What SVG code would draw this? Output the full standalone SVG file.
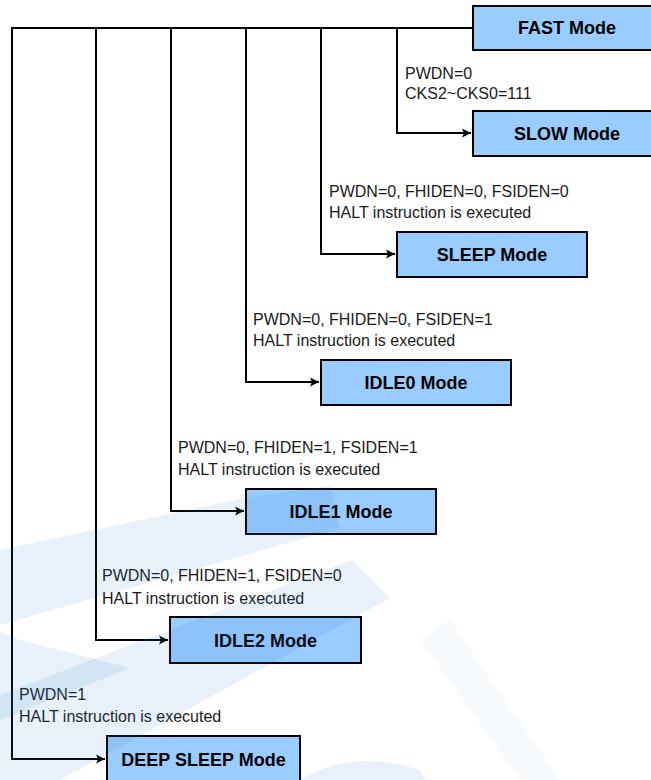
<svg xmlns="http://www.w3.org/2000/svg" width="651" height="780" viewBox="0 0 651 780">
<defs>
<marker id="arr" markerWidth="10" markerHeight="10" refX="9" refY="5" orient="auto" markerUnits="userSpaceOnUse">
<path d="M0,0.5 L9,5 L0,9.5 L2,5 Z" fill="#000"/>
</marker>
<style>
.box{fill:#99ccff;stroke:#000;stroke-width:2}
.bt{font-family:"Liberation Sans",Arial,sans-serif;font-weight:bold;font-size:18px;fill:#000;text-anchor:middle}
.lb{font-family:"Liberation Sans",Arial,sans-serif;font-size:16px;fill:#1a1a1a}
.ln{fill:none;stroke:#000;stroke-width:2}
.wm{fill:#2a7fc4;opacity:0.11}
.wm2{fill:#2a7fc4;opacity:0.04}
</style>
</defs>
<rect width="651" height="780" fill="#fff"/>

<g id="connectors">
<path class="ln" d="M473,28 H12 V759 H105" marker-end="url(#arr)"/>
<path class="ln" d="M96,28 V640 H168" marker-end="url(#arr)"/>
<path class="ln" d="M171,28 V511 H244" marker-end="url(#arr)"/>
<path class="ln" d="M246,28 V382 H319" marker-end="url(#arr)"/>
<path class="ln" d="M321,28 V254 H395" marker-end="url(#arr)"/>
<path class="ln" d="M397,28 V133 H471" marker-end="url(#arr)"/>
</g>

<g id="fast"><rect class="box" x="473" y="6" width="190" height="44"/><text class="bt" x="567" y="34">FAST Mode</text></g>
<g id="slow"><rect class="box" x="473" y="111" width="190" height="45"/><text class="bt" x="567" y="140">SLOW Mode</text></g>
<g id="sleep"><rect class="box" x="397" y="232" width="190" height="45"/><text class="bt" x="492" y="261">SLEEP Mode</text></g>
<g id="idle0"><rect class="box" x="321" y="360" width="190" height="45"/><text class="bt" x="416" y="389">IDLE0 Mode</text></g>
<g id="idle1"><rect class="box" x="246" y="489" width="190" height="45"/><text class="bt" x="341" y="518">IDLE1 Mode</text></g>
<g id="idle2"><rect class="box" x="170" y="617" width="191" height="46"/><text class="bt" x="265.5" y="647">IDLE2 Mode</text></g>
<g id="deepsleep"><rect class="box" x="107" y="736" width="193" height="50"/><text class="bt" x="203.5" y="766">DEEP SLEEP Mode</text></g>

<g id="labels">
<text class="lb" x="405" y="79">PWDN=0</text>
<text class="lb" x="405" y="99">CKS2~CKS0=111</text>
<text class="lb" x="329" y="197">PWDN=0, FHIDEN=0, FSIDEN=0</text>
<text class="lb" x="329" y="218">HALT instruction is executed</text>
<text class="lb" x="253" y="325">PWDN=0, FHIDEN=0, FSIDEN=1</text>
<text class="lb" x="253" y="346">HALT instruction is executed</text>
<text class="lb" x="178" y="453">PWDN=0, FHIDEN=1, FSIDEN=1</text>
<text class="lb" x="178" y="475">HALT instruction is executed</text>
<text class="lb" x="102" y="581">PWDN=0, FHIDEN=1, FSIDEN=0</text>
<text class="lb" x="102" y="604">HALT instruction is executed</text>
<text class="lb" x="19" y="700">PWDN=1</text>
<text class="lb" x="19" y="722">HALT instruction is executed</text>
</g>

<g id="watermark">
<polygon class="wm" points="0,550 250,497 330,486 340,528 0,625"/>
<polygon class="wm" points="0,695 352,560 390,598 60,780 0,780"/>
<polygon class="wm" points="0,632 20,640 130,668 0,720"/>
<path class="wm" d="M300,780 Q350,748 420,770 L425,780 Z"/>
<polygon class="wm2" points="420,640 450,620 560,780 520,780"/>
</g>
</svg>
